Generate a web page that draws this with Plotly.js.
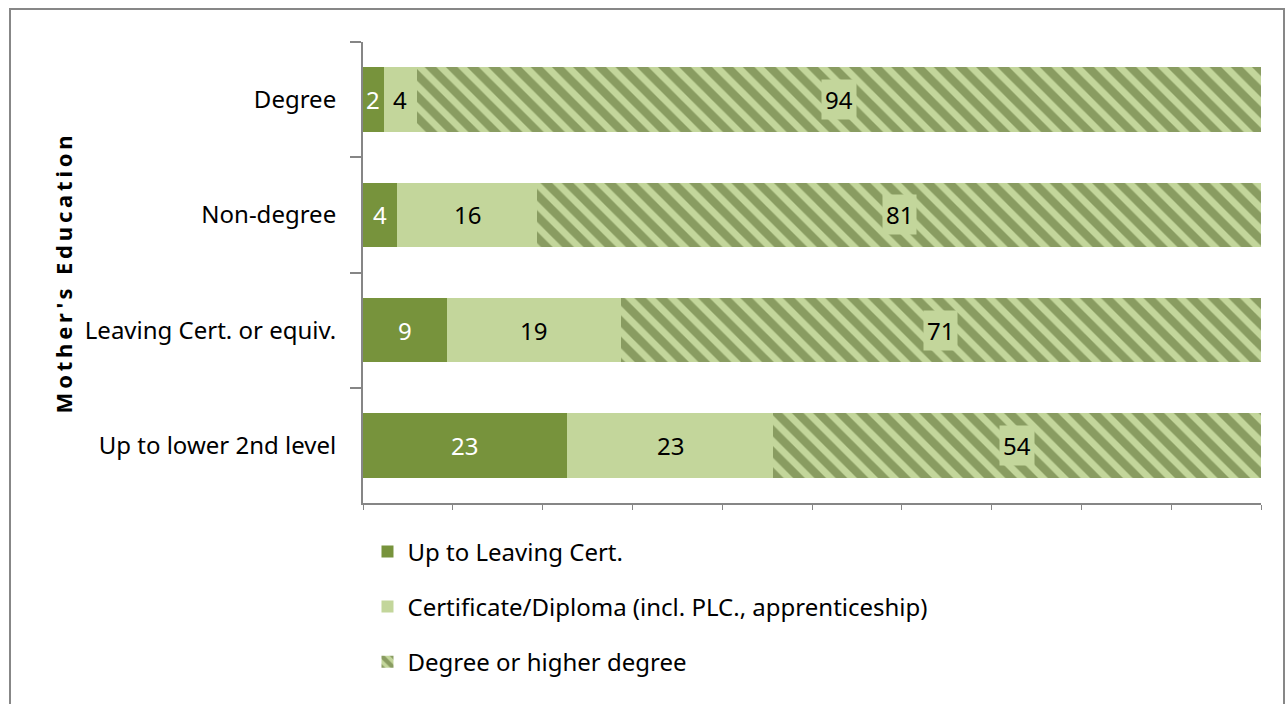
<!DOCTYPE html>
<html>
<head>
<meta charset="utf-8">
<script src="https://cdn.plot.ly/plotly-3.0.1.min.js"></script>
<style>
  html, body { margin: 0; padding: 0; background: #ffffff; }
  #wrap { position: relative; width: 1287px; height: 704px; overflow: hidden; }
  #chart { position: absolute; left: 0; top: 0; width: 1287px; height: 704px; }
  #frame { position: absolute; left: 9px; top: 8px; width: 1272px; height: 720px;
           border: 2px solid #878787; border-bottom: none; pointer-events: none; }
  .ytitle { letter-spacing: 3.8px; }
</style>
</head>
<body>
<div id="wrap">
  <div id="chart"></div>
  <div id="frame"></div>
</div>
<script>
// Categories listed top to bottom
const categories = ["Degree", "Non-degree", "Leaving Cert. or equiv.", "Up to lower 2nd level"];
const seriesNames = ["Up to Leaving Cert.", "Certificate/Diploma (incl. PLC., apprenticeship)", "Degree or higher degree"];
// Estimated underlying shares (%)
const upToLeavingCert = [2.3, 3.8, 9.3, 22.7];
const certificateDiploma = [3.7, 15.6, 19.4, 23.0];
const degreeOrHigher = [94.0, 80.6, 71.3, 54.3];
// Labels as printed on the chart
const labelsLeaving = [2, 4, 9, 23];
const labelsCert = [4, 16, 19, 23];
const labelsDegree = [94, 81, 71, 54];

const FONT = "Noto Sans, Open Sans, sans-serif";
const FS = 24;
const darkGreen = "#77933c";
const lightGreen = "#c3d69b";
const hatchFg = "#4f6228";

const traces = [
  {
    type: "bar", orientation: "h", name: seriesNames[0],
    y: categories, x: upToLeavingCert,
    marker: { color: darkGreen, line: { width: 0 } },
    legendgroup: "a", hoverinfo: "x+y"
  },
  {
    type: "bar", orientation: "h", name: seriesNames[1],
    y: categories, x: certificateDiploma,
    marker: { color: lightGreen, line: { width: 0 } },
    legendgroup: "b", hoverinfo: "x+y"
  },
  {
    type: "bar", orientation: "h", name: seriesNames[2],
    y: categories, x: degreeOrHigher,
    marker: {
      color: lightGreen,
      line: { width: 0 },
      pattern: { shape: "\\", bgcolor: lightGreen, fgcolor: hatchFg, size: 15, solidity: 0.55, fillmode: "overlay" }
    },
    legendgroup: "c", hoverinfo: "x+y"
  }
];

const annotations = [];
const seriesVals = [upToLeavingCert, certificateDiploma, degreeOrHigher];
const seriesLabels = [labelsLeaving, labelsCert, labelsDegree];
categories.forEach((cat, i) => {
  let start = 0;
  seriesVals.forEach((vals, s) => {
    const v = vals[i];
    const a = {
      x: start + v / 2, y: cat, xref: "x", yref: "y",
      text: String(seriesLabels[s][i]), showarrow: false,
      font: { family: FONT, size: FS, color: s === 0 ? "#ffffff" : "#000000" }
    };
    if (s === 2) { a.bgcolor = lightGreen; a.borderpad = 3; }
    annotations.push(a);
    start += v;
  });
});

const layout = {
  width: 1287, height: 704,
  paper_bgcolor: "rgba(0,0,0,0)", plot_bgcolor: "rgba(0,0,0,0)",
  margin: { l: 363, r: 26, t: 42, b: 201, pad: 0 },
  barmode: "stack", bargap: 0.44,
  font: { family: FONT, size: FS, color: "#000000" },
  xaxis: {
    range: [0, 100], dtick: 10, tick0: 0, showticklabels: false,
    ticks: "outside", ticklen: 5, tickcolor: "#868686", tickwidth: 1,
    showline: true, linecolor: "#868686", linewidth: 2,
    showgrid: false, zeroline: false, fixedrange: true
  },
  yaxis: {
    type: "category", categoryorder: "array", categoryarray: categories,
    autorange: "reversed",
    ticks: "outside", tickson: "boundaries", ticklen: 11, tickcolor: "#868686", tickwidth: 2,
    ticklabelstandoff: 20,
    showline: true, linecolor: "#868686", linewidth: 2,
    showgrid: false, zeroline: false,
    tickfont: { family: FONT, size: FS, color: "#000000" },
    title: { text: "Mother's Education", font: { family: FONT, size: 22, color: "#000000", weight: "bold" }, standoff: 6 }
  },
  showlegend: true,
  legend: {
    x: 0.005, y: -0.057, xanchor: "left", yanchor: "top",
    orientation: "v", traceorder: "grouped", tracegroupgap: 21,
    font: { family: FONT, size: FS, color: "#000000" },
    itemwidth: 30, bgcolor: "rgba(0,0,0,0)"
  },
  annotations: annotations
};

Plotly.newPlot("chart", traces, layout, { displayModeBar: false, staticPlot: true });
</script>
</body>
</html>
